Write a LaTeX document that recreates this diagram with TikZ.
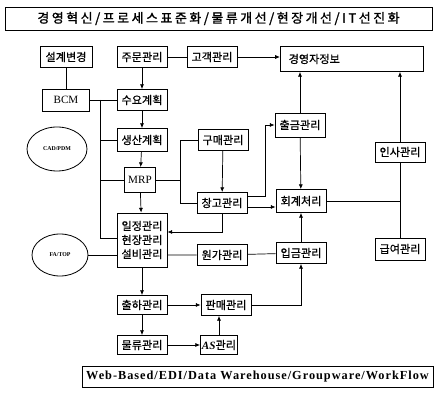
\documentclass[tikz,border=0pt]{standalone}
\usepackage{fontspec}
\setmainfont{Liberation Serif}
\newfontfamily\cjk[FakeBold=0.6]{Noto Sans CJK KR}
\newfontfamily\cjktitle[FakeBold=1.5,LetterSpace=20]{Noto Sans CJK KR}
\newfontfamily\webfont[LetterSpace=8]{Liberation Serif}
\usetikzlibrary{arrows.meta,shapes.geometric}
\tikzset{
  box/.style={draw,line width=0.8pt,minimum width=1.5cm,minimum height=0.63cm,inner sep=1pt,font=\cjk\fontsize{9.5}{10}\selectfont},
  oval/.style={draw,ellipse,line width=0.7pt,inner sep=0pt,font=\bfseries\fontsize{5}{6}\selectfont},
  band/.style={draw,line width=0.8pt,inner sep=2pt},
  link/.style={line width=0.6pt},
  flow/.style={line width=0.6pt,-{Latex[length=4pt,width=3.5pt]}}
}
\begin{document}
\begin{tikzpicture}[x=0.03cm,y=-0.03cm]
\useasboundingbox (0,0) rectangle (435,398);

\node[band,minimum width=12.81cm,minimum height=0.69cm,font=\cjktitle\fontsize{11}{12}\selectfont] (title) at (218.5,18.5) {경영혁신/프로세스표준화/물류개선/현장개선/IT선진화};
\node[band,minimum width=10.53cm,minimum height=0.63cm,font=\webfont\bfseries\fontsize{10.5}{12}\selectfont] (infra) at (257.5,376.5) {Web-Based/EDI/Data Warehouse/Groupware/WorkFlow};

\node[box,minimum width=1.56cm] (seolgye) at (66,57) {설계변경};
\node[box] (jumun) at (142,57) {주문관리};
\node[box] (gogaek) at (212,57) {고객관리};
\node[box,text width=3.8cm,inner xsep=0.25cm,minimum height=0.75cm,align=left] (gyeongyeong) at (352,59) {경영자정보};
\node[box,minimum width=1.41cm,minimum height=0.66cm,font=\fontsize{9.5}{10}\selectfont] (bcm) at (66,100) {BCM};
\node[box] (suyo) at (142,100) {수요계획};
\node[box,minimum height=0.69cm] (saengsan) at (142,140) {생산계획};
\node[oval,minimum width=1.8cm,minimum height=1.32cm] (cadpdm) at (57,149) {CAD/PDM};
\node[box] (gumae) at (223,140) {구매관리};
\node[box,minimum height=0.72cm] (chulgeum) at (300,125) {출금관리};
\node[box,minimum height=0.6cm] (insa) at (400,152) {인사관리};
\node[box,minimum width=0.93cm,minimum height=0.75cm,font=\fontsize{9.5}{10}\selectfont] (mrp) at (140,180) {MRP};
\node[box] (changgo) at (222,203) {창고관리};
\node[box,minimum height=0.69cm] (hoegye) at (301,201) {회계처리};
\node[box,minimum height=0.66cm] (geubyeo) at (400,249) {급여관리};
\node[box,minimum height=1.62cm,align=center,font=\cjk\fontsize{9.5}{12}\selectfont] (iljeong) at (142,240) {일정관리\\현장관리\\설비관리};
\node[oval,minimum width=1.68cm,minimum height=1.26cm] (fatop) at (60,255) {FA/TOP};
\node[box] (wonga) at (222,255) {원가관리};
\node[box] (ipgeum) at (301,253) {입금관리};
\node[box,minimum height=0.57cm] (chulha) at (142,305) {출하관리};
\node[box] (panmae) at (226,305) {판매관리};
\node[box,minimum height=0.57cm] (mulryu) at (142,345) {물류관리};
\node[box,minimum width=1.11cm,minimum height=0.57cm] (as) at (219,345) {{\rmfamily\itshape\bfseries AS}관리};

\coordinate (bcmbus) at (100,100);
\coordinate (bcmend) at (100,238);
\coordinate (gumaebus) at (180,140);
\coordinate (changgobus) at (265,196);
\coordinate (iljeongin) at (222,232);
\coordinate (hoegyeout) at (400,201);

\draw[link] (seolgye) -- (bcm);
\draw[link] (jumun) -- (gogaek);
\draw[flow] (gogaek.east) -- (gogaek.east -| gyeongyeong.west);
\draw[flow] (jumun) -- (suyo);
\draw[flow] (suyo) -- (saengsan);
\draw[flow] (saengsan) -- (mrp);
\draw[link] (bcm) -- (suyo);
\draw[link] (bcmbus) -- (bcmend) -- (bcmend -| iljeong.west);
\draw[link] (bcmbus |- saengsan) -- (saengsan.west);
\draw[link] (bcmbus |- mrp) -- (mrp.west);
\draw[link] (gumae.west) -- (gumaebus) -- (gumaebus |- changgo) -- (changgo.west);
\draw[link] (mrp.east) -- (mrp.east -| gumaebus);
\draw[flow] (gumae) -- (changgo);
\draw[flow] (changgo.east |- changgobus) -- (changgobus) -- (changgobus |- chulgeum) -- (chulgeum.west);
\draw[flow] (changgo.east |- 0,207) -- (hoegye.west |- 0,207);
\draw[flow] (chulgeum.north) -- (chulgeum.north |- gyeongyeong.south);
\draw[flow] (chulgeum) -- (hoegye);
\draw[flow] (insa.north) -- (insa.north |- gyeongyeong.south);
\draw[link] (insa) -- (geubyeo);
\draw[link] (hoegye.east) -- (hoegyeout);
\draw[flow] (changgo.south) -- (iljeongin) -- (iljeongin -| iljeong.east);
\draw[flow] (mrp) -- (iljeong);
\draw[link] (fatop) -- (fatop -| iljeong.west);
\draw[link] (iljeong.east |- wonga) -- (wonga) -- (ipgeum);
\draw[flow] (ipgeum) -- (hoegye);
\draw[flow] (iljeong) -- (chulha);
\draw[flow] (chulha) -- (panmae);
\draw[flow] (panmae.east) -- (panmae.east -| ipgeum) -- (ipgeum.south);
\draw[flow] (chulha) -- (mulryu);
\draw[flow] (mulryu) -- (as);
\draw[flow] (as.north) -- (as.north |- panmae.south);
\end{tikzpicture}
\end{document}
